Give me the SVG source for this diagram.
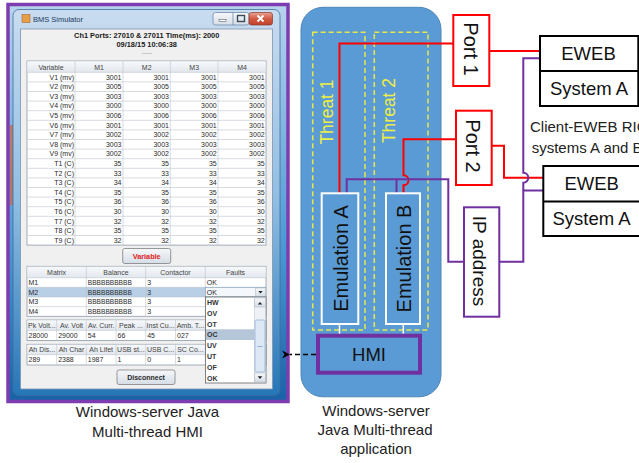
<svg xmlns="http://www.w3.org/2000/svg" width="639" height="463" viewBox="0 0 639 463">
<defs>
<style>
.ui{font-family:"Liberation Sans",Arial,sans-serif;font-size:7px;fill:#2b2b2b}
.uib{font-family:"Liberation Sans",Arial,sans-serif;font-size:7px;fill:#1a1a1a;font-weight:bold}
.grid{fill:none;stroke:#bcc3ce;stroke-width:0.6}
.tbl{fill:#fff;stroke:#8e9aab;stroke-width:0.8}
.cap{font-family:"Liberation Sans",Arial,sans-serif;font-size:15px;fill:#222;text-anchor:middle}
.big{font-family:"Liberation Sans",Arial,sans-serif;font-size:20px;fill:#111}
.red{fill:none;stroke:#ff0000;stroke-width:2}
.pur{fill:none;stroke:#7030a0;stroke-width:2}
.threat{fill:none;stroke:#e8e84a;stroke-width:1.5;stroke-dasharray:5 3}
.emu{fill:#5b9bd5;stroke:#ffffff;stroke-width:2}
.box{fill:#fff;stroke:#000;stroke-width:2}
.tt{font-family:"Liberation Sans",Arial,sans-serif;font-size:17.5px;fill:#eeee44;text-anchor:middle}
</style>
<linearGradient id="frameG" x1="0" y1="0" x2="0" y2="1">
<stop offset="0" stop-color="#c9dcf0"/><stop offset="0.5" stop-color="#8fbde3"/><stop offset="1" stop-color="#2576b8"/>
</linearGradient>
<linearGradient id="deskG" x1="0" y1="0" x2="0" y2="1">
<stop offset="0" stop-color="#b7d3ee"/><stop offset="0.6" stop-color="#4d9ad4"/><stop offset="1" stop-color="#1a62a8"/>
</linearGradient>
<linearGradient id="hdrG" x1="0" y1="0" x2="0" y2="1">
<stop offset="0" stop-color="#f7f9fb"/><stop offset="1" stop-color="#e2e7ee"/>
</linearGradient>
<linearGradient id="btnG" x1="0" y1="0" x2="0" y2="1">
<stop offset="0" stop-color="#f6f8fa"/><stop offset="1" stop-color="#d6dde6"/>
</linearGradient>
<linearGradient id="tbG" x1="0" y1="0" x2="0" y2="1">
<stop offset="0" stop-color="#dce8f5"/><stop offset="1" stop-color="#a9c3df"/>
</linearGradient>
<linearGradient id="closeG" x1="0" y1="0" x2="0" y2="1">
<stop offset="0" stop-color="#e8a193"/><stop offset="0.5" stop-color="#d35a44"/><stop offset="1" stop-color="#c1402b"/>
</linearGradient>
<marker id="arr" markerWidth="10" markerHeight="10" refX="1" refY="5" orient="auto-start-reverse" markerUnits="userSpaceOnUse">
<path d="M9,1 L1,5 L9,9 L6.5,5 Z" fill="#000"/>
</marker>
</defs>
<rect width="639" height="463" fill="#fff"/>

<g id="hmi-screenshot">
<rect x="8" y="4.5" width="280" height="397" fill="url(#deskG)" stroke="#7d3db0" stroke-width="3.5"/>
<rect x="10" y="125" width="4" height="80" fill="#d0643a" opacity="0.7"/>
<rect x="13" y="9.5" width="267" height="386" rx="6" fill="url(#frameG)" stroke="#3f6c99" stroke-width="0.8"/>
<rect x="22" y="14.5" width="8" height="8" fill="#e8a048" stroke="#9c5a1c" stroke-width="0.5"/>
<text x="33" y="22" class="ui" style="fill:#1e395b;font-size:7.5px">BMS Simulator</text>
<rect x="213" y="12.5" width="36" height="12.5" rx="2.5" fill="url(#btnG)" stroke="#5f7ea3" stroke-width="0.7"/>
<line x1="233" y1="12.5" x2="233" y2="25" stroke="#5f7ea3" stroke-width="0.7"/>
<rect x="219" y="19.5" width="7" height="2" fill="#fff" stroke="#3a4a5e" stroke-width="0.5"/>
<rect x="237.5" y="15.5" width="7" height="6" fill="none" stroke="#3a4a5e" stroke-width="1.4"/>
<rect x="249" y="12.5" width="23.5" height="12.5" rx="2.5" fill="url(#closeG)" stroke="#8a3a2a" stroke-width="0.7"/>
<path d="M257.5,15.5 l6,6 m0,-6 l-6,6" stroke="#fff" stroke-width="1.8"/>
<rect x="20.5" y="29" width="252" height="360" fill="#f0f0f0" stroke="#7d95b0" stroke-width="0.8"/>

<text class="uib" text-anchor="middle" x="146.7" y="37.5" style="font-size:7.4px">Ch1  Ports: 27010 &amp; 27011   Time(ms): 2000</text>
<text class="uib" text-anchor="middle" x="146.7" y="47.3" style="font-size:7.4px">09/18/15 10:06:38</text>
<text class="ui" text-anchor="middle" x="146.7" y="55" style="fill:#777;font-size:6px">-----</text>

<rect class="tbl" x="27" y="61" width="239" height="184.1"/>
<rect x="27.4" y="61.4" width="238.2" height="10.9" fill="url(#hdrG)"/>
<path class="grid" d="M27,72.3H266M27,81.9H266M27,91.5H266M27,101.1H266M27,110.7H266M27,120.3H266M27,129.9H266M27,139.5H266M27,149.1H266M27,158.7H266M27,168.3H266M27,177.9H266M27,187.5H266M27,197.1H266M27,206.7H266M27,216.3H266M27,225.9H266M27,235.5H266M75,61V245.1M123,61V245.1M170.3,61V245.1M218,61V245.1"/>
<text class="ui" text-anchor="middle" y="69.5" style="fill:#444"><tspan x="51">Variable</tspan><tspan x="99">M1</tspan><tspan x="146.7">M2</tspan><tspan x="194.2">M3</tspan><tspan x="242">M4</tspan></text>
<text class="ui" text-anchor="end"><tspan x="74" y="79.5">V1 (mv)</tspan><tspan x="74" y="89.1">V2 (mv)</tspan><tspan x="74" y="98.7">V3 (mv)</tspan><tspan x="74" y="108.3">V4 (mv)</tspan><tspan x="74" y="117.9">V5 (mv)</tspan><tspan x="74" y="127.5">V6 (mv)</tspan><tspan x="74" y="137.1">V7 (mv)</tspan><tspan x="74" y="146.7">V8 (mv)</tspan><tspan x="74" y="156.3">V9 (mv)</tspan><tspan x="74" y="165.9">T1 (C)</tspan><tspan x="74" y="175.5">T2 (C)</tspan><tspan x="74" y="185.1">T3 (C)</tspan><tspan x="74" y="194.7">T4 (C)</tspan><tspan x="74" y="204.3">T5 (C)</tspan><tspan x="74" y="213.9">T6 (C)</tspan><tspan x="74" y="223.5">T7 (C)</tspan><tspan x="74" y="233.1">T8 (C)</tspan><tspan x="74" y="242.7">T9 (C)</tspan></text>
<text class="ui" text-anchor="end"><tspan x="121.5" y="79.5">3001</tspan><tspan x="121.5" y="89.1">3005</tspan><tspan x="121.5" y="98.7">3003</tspan><tspan x="121.5" y="108.3">3000</tspan><tspan x="121.5" y="117.9">3006</tspan><tspan x="121.5" y="127.5">3001</tspan><tspan x="121.5" y="137.1">3002</tspan><tspan x="121.5" y="146.7">3003</tspan><tspan x="121.5" y="156.3">3002</tspan><tspan x="121.5" y="165.9">35</tspan><tspan x="121.5" y="175.5">33</tspan><tspan x="121.5" y="185.1">34</tspan><tspan x="121.5" y="194.7">35</tspan><tspan x="121.5" y="204.3">36</tspan><tspan x="121.5" y="213.9">30</tspan><tspan x="121.5" y="223.5">32</tspan><tspan x="121.5" y="233.1">35</tspan><tspan x="121.5" y="242.7">32</tspan></text>
<text class="ui" text-anchor="end"><tspan x="169" y="79.5">3001</tspan><tspan x="169" y="89.1">3005</tspan><tspan x="169" y="98.7">3003</tspan><tspan x="169" y="108.3">3000</tspan><tspan x="169" y="117.9">3006</tspan><tspan x="169" y="127.5">3001</tspan><tspan x="169" y="137.1">3002</tspan><tspan x="169" y="146.7">3003</tspan><tspan x="169" y="156.3">3002</tspan><tspan x="169" y="165.9">35</tspan><tspan x="169" y="175.5">33</tspan><tspan x="169" y="185.1">34</tspan><tspan x="169" y="194.7">35</tspan><tspan x="169" y="204.3">36</tspan><tspan x="169" y="213.9">30</tspan><tspan x="169" y="223.5">32</tspan><tspan x="169" y="233.1">35</tspan><tspan x="169" y="242.7">32</tspan></text>
<text class="ui" text-anchor="end"><tspan x="216.7" y="79.5">3001</tspan><tspan x="216.7" y="89.1">3005</tspan><tspan x="216.7" y="98.7">3003</tspan><tspan x="216.7" y="108.3">3000</tspan><tspan x="216.7" y="117.9">3006</tspan><tspan x="216.7" y="127.5">3001</tspan><tspan x="216.7" y="137.1">3002</tspan><tspan x="216.7" y="146.7">3003</tspan><tspan x="216.7" y="156.3">3002</tspan><tspan x="216.7" y="165.9">35</tspan><tspan x="216.7" y="175.5">33</tspan><tspan x="216.7" y="185.1">34</tspan><tspan x="216.7" y="194.7">35</tspan><tspan x="216.7" y="204.3">36</tspan><tspan x="216.7" y="213.9">30</tspan><tspan x="216.7" y="223.5">32</tspan><tspan x="216.7" y="233.1">35</tspan><tspan x="216.7" y="242.7">32</tspan></text>
<text class="ui" text-anchor="end"><tspan x="264.7" y="79.5">3001</tspan><tspan x="264.7" y="89.1">3005</tspan><tspan x="264.7" y="98.7">3003</tspan><tspan x="264.7" y="108.3">3000</tspan><tspan x="264.7" y="117.9">3006</tspan><tspan x="264.7" y="127.5">3001</tspan><tspan x="264.7" y="137.1">3002</tspan><tspan x="264.7" y="146.7">3003</tspan><tspan x="264.7" y="156.3">3002</tspan><tspan x="264.7" y="165.9">35</tspan><tspan x="264.7" y="175.5">33</tspan><tspan x="264.7" y="185.1">34</tspan><tspan x="264.7" y="194.7">35</tspan><tspan x="264.7" y="204.3">36</tspan><tspan x="264.7" y="213.9">30</tspan><tspan x="264.7" y="223.5">32</tspan><tspan x="264.7" y="233.1">35</tspan><tspan x="264.7" y="242.7">32</tspan></text>

<rect x="122.7" y="248.5" width="48" height="15" rx="2" fill="url(#btnG)" stroke="#707070" stroke-width="0.7"/>
<text class="uib" text-anchor="middle" x="146.7" y="258.8" style="fill:#e02020;font-size:7.3px">Variable</text>

<rect class="tbl" x="27" y="266.3" width="239" height="50"/>
<rect x="27.4" y="266.7" width="238.2" height="11" fill="url(#hdrG)"/>
<rect x="27.4" y="287.3" width="178" height="9.7" fill="#b8cfe5"/>
<path class="grid" d="M27,277.7H266M27,287.3H266M27,297H266M27,306.7H266M86.3,266.3V316.3M145.7,266.3V316.3M205.3,266.3V316.3"/>
<text class="ui" text-anchor="middle" y="274.8" style="fill:#444"><tspan x="56.6">Matrix</tspan><tspan x="116">Balance</tspan><tspan x="175.5">Contactor</tspan><tspan x="235.6">Faults</tspan></text>
<text class="ui"><tspan x="28.5" y="284.9">M1</tspan><tspan x="28.5" y="294.5">M2</tspan><tspan x="28.5" y="304.2">M3</tspan><tspan x="28.5" y="313.9">M4</tspan></text>
<text class="ui" style="font-size:6.6px"><tspan x="87.8" y="284.9">BBBBBBBBBB</tspan><tspan x="87.8" y="294.5">BBBBBBBBBB</tspan><tspan x="87.8" y="304.2">BBBBBBBBBB</tspan><tspan x="87.8" y="313.9">BBBBBBBBBB</tspan></text>
<text class="ui"><tspan x="147.2" y="284.9">3</tspan><tspan x="147.2" y="294.5">3</tspan><tspan x="147.2" y="304.2">3</tspan><tspan x="147.2" y="313.9">3</tspan></text>
<text class="ui" x="206.8" y="284.9">OK</text>
<rect x="205.6" y="287.6" width="60.2" height="9.2" fill="#f4f7fb" stroke="#7f9db9" stroke-width="0.6"/>
<rect x="255.5" y="288" width="10" height="8.4" fill="url(#btnG)" stroke="#9aaabb" stroke-width="0.4"/>
<path d="M258.3,291 h4.4 l-2.2,2.6 z" fill="#222"/>
<text class="ui" x="206.8" y="294.5">OK</text>

<rect class="tbl" x="27" y="320" width="239" height="20.6"/>
<rect x="27.4" y="320.4" width="238.2" height="9.9" fill="url(#hdrG)"/>
<path class="grid" d="M27,330.3H266M56.7,320V340.6M86.3,320V340.6M116,320V340.6M145.7,320V340.6M175.5,320V340.6M205.3,320V340.6M235.5,320V340.6"/>
<text class="ui" text-anchor="middle" y="327.8" style="fill:#444"><tspan x="41.9">Pk Volt...</tspan><tspan x="71.5">Av. Volt</tspan><tspan x="101.2">Av. Curr.</tspan><tspan x="130.9">Peak ...</tspan><tspan x="160.6">Inst Cu...</tspan><tspan x="190.4">Amb. T...</tspan></text>
<text class="ui" y="337.9"><tspan x="28.5">28000</tspan><tspan x="58.2">29000</tspan><tspan x="87.8">54</tspan><tspan x="117.5">66</tspan><tspan x="147.2">45</tspan><tspan x="177">027</tspan></text>

<rect class="tbl" x="27" y="344.3" width="239" height="20.7"/>
<rect x="27.4" y="344.7" width="238.2" height="10" fill="url(#hdrG)"/>
<path class="grid" d="M27,354.7H266M56.7,344.3V365M86.3,344.3V365M116,344.3V365M145.7,344.3V365M175.5,344.3V365M205.3,344.3V365M235.5,344.3V365"/>
<text class="ui" text-anchor="middle" y="352.2" style="fill:#444"><tspan x="41.9">Ah Dis...</tspan><tspan x="71.5">Ah Char</tspan><tspan x="101.2">Ah Lifet</tspan><tspan x="130.9">USB st...</tspan><tspan x="160.6">USB C...</tspan><tspan x="190.4">SC Co...</tspan></text>
<text class="ui" y="362.3"><tspan x="28.5">289</tspan><tspan x="58.2">2388</tspan><tspan x="87.8">1987</tspan><tspan x="117.5">1</tspan><tspan x="147.2">0</tspan><tspan x="177">1</tspan></text>

<rect x="117" y="370" width="58" height="14.5" rx="2" fill="url(#btnG)" stroke="#707070" stroke-width="0.7"/>
<text class="uib" text-anchor="middle" x="146" y="379.8" style="fill:#2a2a2a">Disconnect</text>

<rect x="205.5" y="297" width="60.5" height="86" fill="#fff" stroke="#646464" stroke-width="0.8"/>
<rect x="206" y="329.3" width="48.3" height="10.7" fill="#b4c6d8"/>
<text class="uib" style="fill:#333"><tspan x="207" y="305">HW</tspan><tspan x="207" y="315.8">OV</tspan><tspan x="207" y="326.6">OT</tspan><tspan x="207" y="337.4">OC</tspan><tspan x="207" y="348.2">UV</tspan><tspan x="207" y="359">UT</tspan><tspan x="207" y="369.8">OF</tspan><tspan x="207" y="380.6">OK</tspan></text>
<rect x="254.5" y="297.6" width="11" height="84.8" fill="#eef1f5" stroke="#b0b8c4" stroke-width="0.4"/>
<rect x="254.8" y="298" width="10.4" height="9" fill="url(#btnG)" stroke="#9aaabb" stroke-width="0.4"/>
<path d="M257.8,304.5 h4.4 l-2.2,-2.6 z" fill="#222"/>
<rect x="254.8" y="373" width="10.4" height="9" fill="url(#btnG)" stroke="#9aaabb" stroke-width="0.4"/>
<path d="M257.8,376.3 h4.4 l-2.2,2.6 z" fill="#222"/>
<rect x="255" y="320" width="10" height="52" rx="1.5" fill="#dce8f5" stroke="#7f9fc8" stroke-width="0.6"/>
<line x1="257.5" y1="346.5" x2="262.5" y2="346.5" stroke="#7f9fc8" stroke-width="0.8"/>
</g>

<g id="caption-left">
<text class="cap" x="147.5" y="416.5">Windows-server Java</text>
<text class="cap" x="147.5" y="436.5">Multi-thread HMI</text>
</g>

<g id="application">
<rect x="301" y="7.3" width="140" height="389.5" rx="22" fill="#5b9bd5" stroke="#4f86b8" stroke-width="1"/>
<text class="cap" x="376" y="416">Windows-server</text>
<text class="cap" x="375" y="435">Java Multi-thread</text>
<text class="cap" x="376" y="453.5">application</text>
</g>

<g id="threat-1">
<rect class="threat" x="312.7" y="32.3" width="52.3" height="297.7"/>
<text class="tt" transform="translate(333,112) rotate(-90)">Threat 1</text>
</g>
<g id="threat-2">
<rect class="threat" x="374.3" y="32.3" width="53.7" height="297.7"/>
<text class="tt" transform="translate(395,110.5) rotate(-90)">Threat 2</text>
</g>

<g id="connectors">
<path class="red" d="M339.5,193.3 V43.5 H453.3"/>
<path class="red" d="M403.5,193.3 V185.3 A5,5 0 0 0 403.5,175.3 V139.3 H456"/>
<path class="red" d="M489.3,51 H540"/>
<path class="red" d="M491.7,145.7 H504 V177.7 H543.3"/>
<path class="pur" d="M346.7,193.3 V179.3 H448.3 V261.7 H464"/>
<path class="pur" d="M396.5,179.3 V193.3"/>
<path class="pur" d="M499.3,261.7 H523.3 V190.5 H543.3"/>
<path class="pur" d="M523.3,190.5 V182.7 A5,5 0 0 0 523.3,172.7 V58.3 H540"/>
<path d="M339.5,324 V335.7 M403.3,324 V335.7" stroke="#fff" stroke-width="1.5" fill="none"/>
<path d="M316,354.5 H290" stroke="#000" stroke-width="1.5" stroke-dasharray="5 3" fill="none" marker-end="url(#arr)"/>
</g>

<g id="emulation-a">
<rect class="emu" x="321.7" y="193.3" width="36.6" height="130.7"/>
<text class="big" text-anchor="middle" transform="translate(347.5,258.5) rotate(-90)">Emulation A</text>
</g>
<g id="emulation-b">
<rect class="emu" x="386" y="193.3" width="34" height="130.7"/>
<text class="big" text-anchor="middle" transform="translate(411,258.5) rotate(-90)">Emulation B</text>
</g>
<g id="hmi">
<rect x="318" y="335.7" width="102" height="37" fill="#5b9bd5" stroke="#7030a0" stroke-width="4"/>
<text class="big" text-anchor="middle" x="369" y="361" style="font-size:18.5px">HMI</text>
</g>

<g id="port-1">
<rect x="453.3" y="15" width="36" height="71" fill="#fff" stroke="#ff0000" stroke-width="2"/>
<text class="big" text-anchor="middle" transform="translate(464,49) rotate(90)">Port 1</text>
</g>
<g id="port-2">
<rect x="456" y="110.7" width="35.7" height="74.3" fill="#fff" stroke="#ff0000" stroke-width="2"/>
<text class="big" text-anchor="middle" transform="translate(466,146) rotate(90)">Port 2</text>
</g>
<g id="ip-address">
<rect x="464" y="207.3" width="35.3" height="109.4" fill="#fff" stroke="#7030a0" stroke-width="2"/>
<text class="big" text-anchor="middle" transform="translate(472.5,261) rotate(90)" style="font-size:19px">IP address</text>
</g>

<g id="eweb-1">
<rect class="box" x="540" y="36" width="98.3" height="70"/>
<line x1="540" y1="71" x2="638.3" y2="71" stroke="#000" stroke-width="2"/>
<text class="big" text-anchor="middle" x="588.5" y="60" style="font-size:18.5px">EWEB</text>
<text class="big" text-anchor="middle" x="589" y="95" style="font-size:18.5px">System A</text>
</g>
<g id="eweb-2">
<rect class="box" x="543.3" y="166" width="100" height="70"/>
<line x1="543.3" y1="201.5" x2="643" y2="201.5" stroke="#000" stroke-width="2"/>
<text class="big" text-anchor="middle" x="591.7" y="190" style="font-size:18.5px">EWEB</text>
<text class="big" text-anchor="middle" x="591.5" y="225" style="font-size:18.5px">System A</text>
</g>

<g id="client-label">
<text x="530" y="131.5" style="font-family:'Liberation Sans',Arial,sans-serif;font-size:15px;fill:#222">Client-EWEB RIC</text>
<text x="531.7" y="153.3" style="font-family:'Liberation Sans',Arial,sans-serif;font-size:15px;fill:#222">systems A and B</text>
</g>
</svg>
